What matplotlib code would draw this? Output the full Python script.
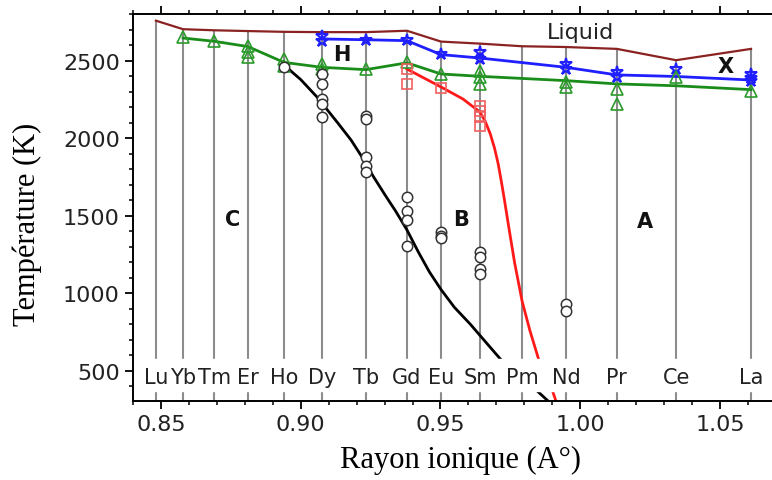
import matplotlib.pyplot as plt
from matplotlib.ticker import MultipleLocator

# Elements (ionic radius, Angstrom)
elements = ['Lu', 'Yb', 'Tm', 'Er', 'Ho', 'Dy', 'Tb', 'Gd', 'Eu', 'Sm', 'Pm', 'Nd', 'Pr', 'Ce', 'La']
radius = [0.8482, 0.8579, 0.8690, 0.8811, 0.8940, 0.9076, 0.9233, 0.9380,
          0.9502, 0.9641, 0.9792, 0.9949, 1.0131, 1.0343, 1.0611]
r = dict(zip(elements, radius))

# Liquidus (brown)
liquidus = [2760, 2705, 2698, 2693, 2688, 2686, 2686, 2695, 2625, 2612, 2595, 2590, 2578, 2505, 2578]

# H -> X / H -> Liquid boundary (blue)
blue_el = ['Dy', 'Tb', 'Gd', 'Eu', 'Sm', 'Nd', 'Pr', 'Ce', 'La']
blue_T = [2642, 2637, 2631, 2541, 2519, 2459, 2410, 2400, 2377]

# A/B/C -> H boundary (green)
green_el = ['Yb', 'Tm', 'Er', 'Ho', 'Dy', 'Tb', 'Gd', 'Eu', 'Sm', 'Nd', 'Pr', 'Ce', 'La']
green_T = [2648, 2627, 2593, 2491, 2459, 2444, 2488, 2416, 2401, 2373, 2352, 2340, 2315]

# B -> A boundary (red curve)
red_r = [0.9380, 0.9502, 0.9580, 0.9641, 0.9660, 0.9678, 0.9693, 0.9706, 0.9718, 0.9730,
         0.9745, 0.9765, 0.9792, 0.9820, 0.9852, 0.9880, 0.9902, 0.9913]
red_T = [2448, 2332, 2255, 2171, 2110, 2030, 1940, 1840, 1720, 1590,
         1420, 1200, 950, 760, 570, 450, 365, 306]

# C -> B boundary (black curve)
black_r = [0.8940, 0.9000, 0.9058, 0.9130, 0.9180, 0.9219, 0.9258, 0.9300, 0.9340, 0.9380,
           0.9420, 0.9460, 0.9502, 0.9550, 0.9606, 0.9660, 0.9720, 0.9780, 0.9838, 0.9885]
black_T = [2474, 2380, 2268, 2106, 1990, 1881, 1760, 1640, 1530, 1410,
           1270, 1140, 1025, 910, 803, 690, 565, 470, 384, 306]

# experimental points
stars = {'Dy': [2659, 2631], 'Tb': [2637], 'Gd': [2637], 'Eu': [2545], 'Sm': [2556, 2513],
         'Nd': [2480, 2448], 'Pr': [2429, 2399], 'Ce': [2448], 'La': [2416, 2390, 2373]}
triangles = {'Yb': [2655], 'Tm': [2631], 'Er': [2599, 2556, 2524], 'Ho': [2513, 2470],
             'Dy': [2480, 2448], 'Tb': [2448], 'Gd': [2491], 'Eu': [2416],
             'Sm': [2437, 2395, 2352], 'Nd': [2362, 2330], 'Pr': [2319, 2223],
             'Ce': [2395], 'La': [2309]}
squares = {'Gd': [2448, 2352], 'Eu': [2323], 'Sm': [2211, 2179, 2136, 2078]}
circles = {'Ho': [2461], 'Dy': [2416, 2352, 2252, 2223, 2136],
           'Tb': [2148, 2126, 1879, 1825, 1782], 'Gd': [1620, 1530, 1476, 1308],
           'Eu': [1395, 1373, 1356], 'Sm': [1266, 1234, 1158, 1126], 'Nd': [932, 889]}


def flat(d):
    xs, ys = [], []
    for el, vals in d.items():
        xs += [r[el]] * len(vals)
        ys += vals
    return xs, ys


fig = plt.figure(figsize=(7.72, 4.81), dpi=100)
ax = fig.add_axes([0.1723, 0.1642, 0.8277, 0.8046])
ax.set_xlim(0.84, 1.0686)
ax.set_ylim(306, 2803)

# vertical element lines (from bottom to liquidus)
ax.vlines(radius, 306, liquidus, color='#8c8c8c', lw=1.5, zorder=1)

ax.plot(radius, liquidus, color='#8b2222', lw=1.6, zorder=2)
ax.plot([r[e] for e in blue_el], blue_T, color='#1f1fff', lw=2, zorder=2)
ax.plot([r[e] for e in green_el], green_T, color='#1a8c1a', lw=2, zorder=2)
ax.plot(red_r, red_T, color='#ff1a1a', lw=2, zorder=2, solid_joinstyle='round')
ax.plot(black_r, black_T, color='black', lw=2, zorder=2, solid_joinstyle='round')

x, y = flat(stars)
ax.plot(x, y, '*', ms=9, mfc='none', mec='#1f1fff', mew=1.5, zorder=2.1)
x, y = flat(triangles)
ax.plot(x, y, '^', ms=8, mfc='none', mec='#2a9a2a', mew=1.2, zorder=2.1)
x, y = flat(squares)
ax.plot(x, y, 's', ms=7, mfc='none', mec='#f06060', mew=1.2, zorder=2.1)
x, y = flat(circles)
ax.plot(x, y, 'o', ms=7.5, mfc='white', mec='#333333', mew=1.1, zorder=2.2)

# white band behind element labels
ax.axhspan(371, 577, color='white', zorder=2.3)
for el in elements:
    ax.text(r[el], 461, el, ha='center', va='center', fontsize=15, color='#222222', zorder=3)

# phase labels
ax.text(1.0, 2690, 'Liquid', ha='center', va='center', fontsize=16, color='#222222')
for txt, px, py in [('H', 0.9146, 2545), ('X', 1.0521, 2468), ('C', 0.8757, 1481),
                    ('B', 0.9575, 1481), ('A', 1.0232, 1468)]:
    ax.text(px, py, txt, ha='center', va='center', fontsize=15, fontweight='bold', color='#111111')

ax.xaxis.set_minor_locator(MultipleLocator(0.01))
ax.yaxis.set_minor_locator(MultipleLocator(100))
ax.set_xticks([0.85, 0.90, 0.95, 1.00, 1.05])
ax.set_xticklabels(['0.85', '0.90', '0.95', '1.00', '1.05'])
ax.set_yticks([500, 1000, 1500, 2000, 2500])
ax.tick_params(axis='both', which='major', direction='out', length=6, width=1.3,
               labelsize=16, colors='black', labelcolor='#222222')
ax.tick_params(axis='both', which='minor', direction='out', length=3, width=1.1)
ax.tick_params(axis='x', top=True, which='both')
ax.tick_params(axis='y', right=False, which='both')
ax.spines['right'].set_visible(False)
for s in ['left', 'top', 'bottom']:
    ax.spines[s].set_linewidth(1.4)

ax.set_xlabel('Rayon ionique (A°)', family='Liberation Serif', fontsize=22)
ax.xaxis.label.set_va('center')
ax.xaxis.set_label_coords(0.512, -0.15)
ax.set_ylabel('Température (K)', family='Liberation Serif', fontsize=22)
ax.yaxis.label.set_va('center')
ax.yaxis.set_label_coords(-0.166, 0.46)

fig.savefig('out.png', dpi=100)
